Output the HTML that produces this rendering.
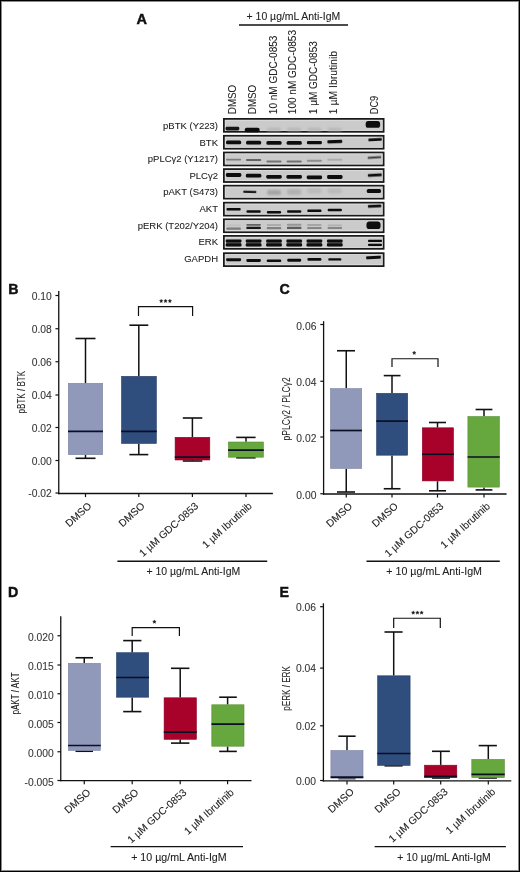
<!DOCTYPE html>
<html><head><meta charset="utf-8"><title>Figure</title>
<style>
html,body{margin:0;padding:0;background:#fff;}
body{width:520px;height:872px;overflow:hidden;position:relative;font-family:"Liberation Sans", sans-serif;}
svg{position:absolute;left:0;top:0;display:block;font-family:"Liberation Sans", sans-serif;filter:blur(0.35px);}
.frame{position:absolute;left:0;top:0;width:520px;height:872px;box-sizing:border-box;border:1px solid #000;pointer-events:none;}
.frame2{position:absolute;left:1px;top:1px;width:518px;height:870px;box-sizing:border-box;border:1px solid #8a8a8a;pointer-events:none;}
</style></head>
<body>
<svg width="520" height="872" viewBox="0 0 520 872">
<text x="136.60" y="23.50" font-size="14.4" text-anchor="start" fill="#111" font-weight="bold" textLength="10.50" lengthAdjust="spacingAndGlyphs" stroke="#111" stroke-width="0.45">A</text>
<text x="246.60" y="19.80" font-size="10.0" text-anchor="start" fill="#222" stroke="#222" stroke-width="0.08" textLength="93.60" lengthAdjust="spacingAndGlyphs" >+ 10 µg/mL Anti-IgM</text>
<line x1="239.00" y1="25.00" x2="348.00" y2="25.00" stroke="#111" stroke-width="1.4"/>
<text x="0.00" y="0.00" font-size="10.0" text-anchor="start" fill="#222" stroke="#222" stroke-width="0.08" textLength="29.40" lengthAdjust="spacingAndGlyphs" transform="translate(235.8,114.2) rotate(-90)" >DMSO</text>
<text x="0.00" y="0.00" font-size="10.0" text-anchor="start" fill="#222" stroke="#222" stroke-width="0.08" textLength="29.40" lengthAdjust="spacingAndGlyphs" transform="translate(255.7,114.2) rotate(-90)" >DMSO</text>
<text x="0.00" y="0.00" font-size="10.0" text-anchor="start" fill="#222" stroke="#222" stroke-width="0.08" textLength="78.60" lengthAdjust="spacingAndGlyphs" transform="translate(276.6,114.2) rotate(-90)" >10 nM GDC-0853</text>
<text x="0.00" y="0.00" font-size="10.0" text-anchor="start" fill="#222" stroke="#222" stroke-width="0.08" textLength="84.20" lengthAdjust="spacingAndGlyphs" transform="translate(296.4,114.2) rotate(-90)" >100 nM GDC-0853</text>
<text x="0.00" y="0.00" font-size="10.0" text-anchor="start" fill="#222" stroke="#222" stroke-width="0.08" textLength="73.00" lengthAdjust="spacingAndGlyphs" transform="translate(316.8,114.2) rotate(-90)" >1 µM GDC-0853</text>
<text x="0.00" y="0.00" font-size="10.0" text-anchor="start" fill="#222" stroke="#222" stroke-width="0.08" textLength="63.20" lengthAdjust="spacingAndGlyphs" transform="translate(336.9,114.2) rotate(-90)" >1 µM Ibrutinib</text>
<text x="0.00" y="0.00" font-size="10.0" text-anchor="start" fill="#222" stroke="#222" stroke-width="0.08" textLength="18.40" lengthAdjust="spacingAndGlyphs" transform="translate(378.2,114.2) rotate(-90)" >DC9</text>
<text x="218.00" y="129.20" font-size="9.5" text-anchor="end" fill="#222" stroke="#222" stroke-width="0.08" >pBTK (Y223)</text>
<text x="218.00" y="145.75" font-size="9.5" text-anchor="end" fill="#222" stroke="#222" stroke-width="0.08" >BTK</text>
<text x="218.00" y="162.30" font-size="9.5" text-anchor="end" fill="#222" stroke="#222" stroke-width="0.08" >pPLCγ2 (Y1217)</text>
<text x="218.00" y="178.85" font-size="9.5" text-anchor="end" fill="#222" stroke="#222" stroke-width="0.08" >PLCγ2</text>
<text x="218.00" y="195.40" font-size="9.5" text-anchor="end" fill="#222" stroke="#222" stroke-width="0.08" >pAKT (S473)</text>
<text x="218.00" y="211.95" font-size="9.5" text-anchor="end" fill="#222" stroke="#222" stroke-width="0.08" >AKT</text>
<text x="218.00" y="228.50" font-size="9.5" text-anchor="end" fill="#222" stroke="#222" stroke-width="0.08" >pERK (T202/Y204)</text>
<text x="218.00" y="245.05" font-size="9.5" text-anchor="end" fill="#222" stroke="#222" stroke-width="0.08" >ERK</text>
<text x="218.00" y="261.60" font-size="9.5" text-anchor="end" fill="#222" stroke="#222" stroke-width="0.08" >GAPDH</text>
<defs><filter id="bl" x="-30%" y="-150%" width="160%" height="400%"><feGaussianBlur stdDeviation="0.65"/></filter><filter id="bl2" x="-30%" y="-150%" width="160%" height="400%"><feGaussianBlur stdDeviation="1.3"/></filter></defs>
<rect x="223.90" y="118.90" width="159.70" height="12.9" fill="#cbcbcb" stroke="#1a1a1a" stroke-width="1.8"/>
<rect x="225.30" y="120.30" width="156.90" height="10.1" fill="none" stroke="#e4e4e4" stroke-width="0.8" opacity="0.8"/>
<rect x="223.90" y="135.80" width="159.70" height="12.9" fill="#cbcbcb" stroke="#1a1a1a" stroke-width="1.8"/>
<rect x="225.30" y="137.20" width="156.90" height="10.1" fill="none" stroke="#e4e4e4" stroke-width="0.8" opacity="0.8"/>
<rect x="223.90" y="152.50" width="159.70" height="12.9" fill="#cbcbcb" stroke="#1a1a1a" stroke-width="1.8"/>
<rect x="225.30" y="153.90" width="156.90" height="10.1" fill="none" stroke="#e4e4e4" stroke-width="0.8" opacity="0.8"/>
<rect x="223.90" y="169.10" width="159.70" height="12.9" fill="#cbcbcb" stroke="#1a1a1a" stroke-width="1.8"/>
<rect x="225.30" y="170.50" width="156.90" height="10.1" fill="none" stroke="#e4e4e4" stroke-width="0.8" opacity="0.8"/>
<rect x="223.90" y="185.70" width="159.70" height="12.9" fill="#cbcbcb" stroke="#1a1a1a" stroke-width="1.8"/>
<rect x="225.30" y="187.10" width="156.90" height="10.1" fill="none" stroke="#e4e4e4" stroke-width="0.8" opacity="0.8"/>
<rect x="223.90" y="202.70" width="159.70" height="12.9" fill="#cbcbcb" stroke="#1a1a1a" stroke-width="1.8"/>
<rect x="225.30" y="204.10" width="156.90" height="10.1" fill="none" stroke="#e4e4e4" stroke-width="0.8" opacity="0.8"/>
<rect x="223.90" y="219.30" width="159.70" height="12.9" fill="#cbcbcb" stroke="#1a1a1a" stroke-width="1.8"/>
<rect x="225.30" y="220.70" width="156.90" height="10.1" fill="none" stroke="#e4e4e4" stroke-width="0.8" opacity="0.8"/>
<rect x="223.90" y="235.90" width="159.70" height="12.9" fill="#cbcbcb" stroke="#1a1a1a" stroke-width="1.8"/>
<rect x="225.30" y="237.30" width="156.90" height="10.1" fill="none" stroke="#e4e4e4" stroke-width="0.8" opacity="0.8"/>
<rect x="223.90" y="253.20" width="159.70" height="12.9" fill="#cbcbcb" stroke="#1a1a1a" stroke-width="1.8"/>
<rect x="225.30" y="254.60" width="156.90" height="10.1" fill="none" stroke="#e4e4e4" stroke-width="0.8" opacity="0.8"/>
<rect x="225.50" y="126.80" width="13.80" height="3.60" rx="1.38" fill="rgb(22,22,22)" filter="url(#bl)"/>
<rect x="244.80" y="127.85" width="14.80" height="4.50" rx="1.73" fill="rgb(12,12,12)" filter="url(#bl)"/>
<rect x="267.00" y="127.80" width="14.00" height="3.20" rx="1.23" fill="rgb(184,184,184)" filter="url(#bl2)"/>
<rect x="287.20" y="127.80" width="14.00" height="3.20" rx="1.23" fill="rgb(184,184,184)" filter="url(#bl2)"/>
<rect x="307.40" y="127.80" width="14.00" height="3.20" rx="1.23" fill="rgb(184,184,184)" filter="url(#bl2)"/>
<rect x="327.80" y="127.80" width="14.00" height="3.20" rx="1.23" fill="rgb(184,184,184)" filter="url(#bl2)"/>
<rect x="365.70" y="121.10" width="14.40" height="6.60" rx="2.54" fill="rgb(12,12,12)" filter="url(#bl)"/>
<rect x="226.00" y="140.45" width="15.20" height="3.90" rx="1.50" fill="rgb(12,12,12)" filter="url(#bl)"/>
<rect x="246.00" y="140.65" width="15.20" height="3.90" rx="1.50" fill="rgb(12,12,12)" filter="url(#bl)"/>
<rect x="266.40" y="140.95" width="15.20" height="3.90" rx="1.50" fill="rgb(12,12,12)" filter="url(#bl)"/>
<rect x="286.60" y="140.95" width="15.20" height="3.90" rx="1.50" fill="rgb(12,12,12)" filter="url(#bl)"/>
<rect x="306.90" y="141.10" width="15.00" height="3.20" rx="1.23" fill="rgb(12,12,12)" filter="url(#bl)"/>
<rect x="327.30" y="140.10" width="15.00" height="3.20" rx="1.23" fill="rgb(12,12,12)" filter="url(#bl)" transform="rotate(-2.0 334.80 141.70)"/>
<rect x="368.30" y="138.25" width="13.60" height="2.70" rx="1.04" fill="rgb(12,12,12)" filter="url(#bl)" transform="rotate(-3.0 375.10 139.60)"/>
<rect x="226.10" y="158.65" width="15.00" height="1.90" rx="0.73" fill="rgb(123,123,123)" filter="url(#bl)"/>
<rect x="246.10" y="159.05" width="15.00" height="1.90" rx="0.73" fill="rgb(98,98,98)" filter="url(#bl)"/>
<rect x="266.50" y="160.55" width="15.00" height="1.90" rx="0.73" fill="rgb(117,117,117)" filter="url(#bl)"/>
<rect x="286.70" y="160.55" width="15.00" height="1.90" rx="0.73" fill="rgb(113,113,113)" filter="url(#bl)"/>
<rect x="306.90" y="159.75" width="15.00" height="1.90" rx="0.73" fill="rgb(142,142,142)" filter="url(#bl)"/>
<rect x="327.30" y="158.85" width="15.00" height="1.90" rx="0.73" fill="rgb(172,172,172)" filter="url(#bl)"/>
<rect x="367.65" y="156.40" width="13.50" height="2.00" rx="0.77" fill="rgb(60,60,60)" filter="url(#bl)" transform="rotate(-3.5 374.40 157.40)"/>
<rect x="225.90" y="173.10" width="15.40" height="3.80" rx="1.46" fill="rgb(12,12,12)" filter="url(#bl)"/>
<rect x="245.90" y="173.80" width="15.40" height="3.80" rx="1.46" fill="rgb(12,12,12)" filter="url(#bl)"/>
<rect x="266.30" y="174.90" width="15.40" height="3.80" rx="1.46" fill="rgb(12,12,12)" filter="url(#bl)"/>
<rect x="286.50" y="174.90" width="15.40" height="3.80" rx="1.46" fill="rgb(12,12,12)" filter="url(#bl)"/>
<rect x="306.70" y="175.50" width="15.40" height="3.80" rx="1.46" fill="rgb(12,12,12)" filter="url(#bl)"/>
<rect x="327.10" y="175.10" width="15.40" height="3.80" rx="1.46" fill="rgb(12,12,12)" filter="url(#bl)"/>
<rect x="367.80" y="173.75" width="14.00" height="2.70" rx="1.04" fill="rgb(12,12,12)" filter="url(#bl)" transform="rotate(-3.0 374.80 175.10)"/>
<rect x="243.20" y="190.70" width="13.20" height="2.20" rx="0.85" fill="rgb(31,31,31)" filter="url(#bl)" transform="rotate(1.5 249.80 191.80)"/>
<rect x="267.00" y="190.00" width="14.00" height="5.00" rx="1.92" fill="rgb(165,165,165)" filter="url(#bl2)"/>
<rect x="287.20" y="189.25" width="14.00" height="5.50" rx="2.12" fill="rgb(176,176,176)" filter="url(#bl2)"/>
<rect x="307.40" y="188.50" width="14.00" height="5.00" rx="1.92" fill="rgb(186,186,186)" filter="url(#bl2)"/>
<rect x="327.80" y="188.50" width="14.00" height="5.00" rx="1.92" fill="rgb(186,186,186)" filter="url(#bl2)"/>
<rect x="366.80" y="189.05" width="14.20" height="3.90" rx="1.50" fill="rgb(12,12,12)" filter="url(#bl)"/>
<rect x="226.50" y="207.95" width="14.20" height="2.50" rx="0.96" fill="rgb(12,12,12)" filter="url(#bl)"/>
<rect x="246.50" y="210.15" width="14.20" height="2.50" rx="0.96" fill="rgb(12,12,12)" filter="url(#bl)"/>
<rect x="266.90" y="210.95" width="14.20" height="2.50" rx="0.96" fill="rgb(12,12,12)" filter="url(#bl)"/>
<rect x="287.10" y="210.15" width="14.20" height="2.50" rx="0.96" fill="rgb(12,12,12)" filter="url(#bl)"/>
<rect x="307.30" y="209.45" width="14.20" height="2.50" rx="0.96" fill="rgb(12,12,12)" filter="url(#bl)"/>
<rect x="327.70" y="208.65" width="14.20" height="2.50" rx="0.96" fill="rgb(12,12,12)" filter="url(#bl)"/>
<rect x="367.85" y="204.65" width="13.50" height="2.90" rx="1.12" fill="rgb(12,12,12)" filter="url(#bl)" transform="rotate(-2.5 374.60 206.10)"/>
<rect x="226.35" y="224.45" width="14.50" height="1.90" rx="0.73" fill="rgb(192,192,192)" filter="url(#bl)"/>
<rect x="226.35" y="227.60" width="14.50" height="2.20" rx="0.85" fill="rgb(123,123,123)" filter="url(#bl)"/>
<rect x="246.35" y="223.95" width="14.50" height="1.90" rx="0.73" fill="rgb(98,98,98)" filter="url(#bl)"/>
<rect x="246.35" y="226.80" width="14.50" height="2.20" rx="0.85" fill="rgb(22,22,22)" filter="url(#bl)"/>
<rect x="266.75" y="224.05" width="14.50" height="1.90" rx="0.73" fill="rgb(172,172,172)" filter="url(#bl)"/>
<rect x="266.75" y="227.10" width="14.50" height="2.20" rx="0.85" fill="rgb(130,130,130)" filter="url(#bl)"/>
<rect x="286.95" y="223.85" width="14.50" height="1.90" rx="0.73" fill="rgb(150,150,150)" filter="url(#bl)"/>
<rect x="286.95" y="226.80" width="14.50" height="2.20" rx="0.85" fill="rgb(92,92,92)" filter="url(#bl)"/>
<rect x="307.15" y="224.05" width="14.50" height="1.90" rx="0.73" fill="rgb(165,165,165)" filter="url(#bl)"/>
<rect x="307.15" y="226.90" width="14.50" height="2.20" rx="0.85" fill="rgb(134,134,134)" filter="url(#bl)"/>
<rect x="327.55" y="224.45" width="14.50" height="1.90" rx="0.73" fill="rgb(176,176,176)" filter="url(#bl)"/>
<rect x="327.55" y="226.90" width="14.50" height="2.20" rx="0.85" fill="rgb(134,134,134)" filter="url(#bl)"/>
<rect x="366.50" y="221.50" width="14.00" height="7.60" rx="2.92" fill="rgb(12,12,12)" filter="url(#bl)"/>
<rect x="226.10" y="240.30" width="15.00" height="5.00" rx="1.92" fill="rgb(127,127,127)" filter="url(#bl)"/>
<rect x="225.70" y="239.60" width="15.80" height="2.80" rx="1.08" fill="rgb(12,12,12)" filter="url(#bl)"/>
<rect x="225.70" y="243.15" width="15.80" height="3.30" rx="1.27" fill="rgb(12,12,12)" filter="url(#bl)"/>
<rect x="246.10" y="240.30" width="15.00" height="5.00" rx="1.92" fill="rgb(127,127,127)" filter="url(#bl)"/>
<rect x="245.70" y="239.60" width="15.80" height="2.80" rx="1.08" fill="rgb(12,12,12)" filter="url(#bl)"/>
<rect x="245.70" y="243.15" width="15.80" height="3.30" rx="1.27" fill="rgb(12,12,12)" filter="url(#bl)"/>
<rect x="266.50" y="240.30" width="15.00" height="5.00" rx="1.92" fill="rgb(127,127,127)" filter="url(#bl)"/>
<rect x="266.10" y="239.60" width="15.80" height="2.80" rx="1.08" fill="rgb(12,12,12)" filter="url(#bl)"/>
<rect x="266.10" y="243.15" width="15.80" height="3.30" rx="1.27" fill="rgb(12,12,12)" filter="url(#bl)"/>
<rect x="286.70" y="240.30" width="15.00" height="5.00" rx="1.92" fill="rgb(127,127,127)" filter="url(#bl)"/>
<rect x="286.30" y="239.60" width="15.80" height="2.80" rx="1.08" fill="rgb(12,12,12)" filter="url(#bl)"/>
<rect x="286.30" y="243.15" width="15.80" height="3.30" rx="1.27" fill="rgb(12,12,12)" filter="url(#bl)"/>
<rect x="306.90" y="240.30" width="15.00" height="5.00" rx="1.92" fill="rgb(127,127,127)" filter="url(#bl)"/>
<rect x="306.50" y="239.60" width="15.80" height="2.80" rx="1.08" fill="rgb(12,12,12)" filter="url(#bl)"/>
<rect x="306.50" y="243.15" width="15.80" height="3.30" rx="1.27" fill="rgb(12,12,12)" filter="url(#bl)"/>
<rect x="327.30" y="240.30" width="15.00" height="5.00" rx="1.92" fill="rgb(127,127,127)" filter="url(#bl)"/>
<rect x="326.90" y="239.60" width="15.80" height="2.80" rx="1.08" fill="rgb(12,12,12)" filter="url(#bl)"/>
<rect x="326.90" y="243.15" width="15.80" height="3.30" rx="1.27" fill="rgb(12,12,12)" filter="url(#bl)"/>
<rect x="368.00" y="239.85" width="14.00" height="2.10" rx="0.81" fill="rgb(12,12,12)" filter="url(#bl)"/>
<rect x="368.00" y="243.65" width="14.00" height="2.30" rx="0.88" fill="rgb(12,12,12)" filter="url(#bl)"/>
<rect x="226.10" y="258.20" width="15.00" height="3.00" rx="1.15" fill="rgb(12,12,12)" filter="url(#bl)"/>
<rect x="246.35" y="258.90" width="14.50" height="3.00" rx="1.15" fill="rgb(12,12,12)" filter="url(#bl)"/>
<rect x="266.75" y="259.50" width="14.50" height="2.40" rx="0.92" fill="rgb(12,12,12)" filter="url(#bl)"/>
<rect x="287.20" y="258.75" width="14.00" height="2.90" rx="1.12" fill="rgb(12,12,12)" filter="url(#bl)"/>
<rect x="307.40" y="257.95" width="14.00" height="2.90" rx="1.12" fill="rgb(12,12,12)" filter="url(#bl)"/>
<rect x="328.30" y="258.20" width="13.00" height="2.40" rx="0.92" fill="rgb(12,12,12)" filter="url(#bl)"/>
<rect x="366.00" y="255.90" width="15.00" height="3.00" rx="1.15" fill="rgb(12,12,12)" filter="url(#bl)" transform="rotate(-3.0 373.50 257.40)"/>
<text x="8.20" y="293.70" font-size="14.2" text-anchor="start" fill="#111" font-weight="bold" stroke="#111" stroke-width="0.45">B</text>
<line x1="58.75" y1="291.00" x2="58.75" y2="494.15" stroke="#111" stroke-width="1.3"/>
<line x1="55.45" y1="295.50" x2="58.75" y2="295.50" stroke="#111" stroke-width="1.2"/>
<text x="51.80" y="299.80" font-size="10.3" text-anchor="end" fill="#333" stroke="#333" stroke-width="0.08" >0.10</text>
<line x1="55.45" y1="328.75" x2="58.75" y2="328.75" stroke="#111" stroke-width="1.2"/>
<text x="51.80" y="333.05" font-size="10.3" text-anchor="end" fill="#333" stroke="#333" stroke-width="0.08" >0.08</text>
<line x1="55.45" y1="361.75" x2="58.75" y2="361.75" stroke="#111" stroke-width="1.2"/>
<text x="51.80" y="366.05" font-size="10.3" text-anchor="end" fill="#333" stroke="#333" stroke-width="0.08" >0.06</text>
<line x1="55.45" y1="395.00" x2="58.75" y2="395.00" stroke="#111" stroke-width="1.2"/>
<text x="51.80" y="399.30" font-size="10.3" text-anchor="end" fill="#333" stroke="#333" stroke-width="0.08" >0.04</text>
<line x1="55.45" y1="427.50" x2="58.75" y2="427.50" stroke="#111" stroke-width="1.2"/>
<text x="51.80" y="431.80" font-size="10.3" text-anchor="end" fill="#333" stroke="#333" stroke-width="0.08" >0.02</text>
<line x1="55.45" y1="460.50" x2="58.75" y2="460.50" stroke="#111" stroke-width="1.2"/>
<text x="51.80" y="464.80" font-size="10.3" text-anchor="end" fill="#333" stroke="#333" stroke-width="0.08" >0.00</text>
<line x1="55.45" y1="493.00" x2="58.75" y2="493.00" stroke="#111" stroke-width="1.2"/>
<text x="51.80" y="497.30" font-size="10.3" text-anchor="end" fill="#333" stroke="#333" stroke-width="0.08" >-0.02</text>
<line x1="58.10" y1="493.50" x2="272.90" y2="493.50" stroke="#111" stroke-width="1.3"/>
<text x="0.00" y="0.00" font-size="10.3" text-anchor="middle" fill="#222" stroke="#222" stroke-width="0.08" textLength="42.50" lengthAdjust="spacingAndGlyphs" transform="translate(25.4,392.2) rotate(-90)" >pBTK / BTK</text>
<line x1="85.50" y1="338.50" x2="85.50" y2="383.00" stroke="#111" stroke-width="1.5"/>
<line x1="85.50" y1="455.00" x2="85.50" y2="458.30" stroke="#111" stroke-width="1.5"/>
<line x1="75.50" y1="338.50" x2="95.50" y2="338.50" stroke="#111" stroke-width="1.6"/>
<line x1="75.50" y1="458.30" x2="95.50" y2="458.30" stroke="#111" stroke-width="1.6"/>
<rect x="68.30" y="383.30" width="34.40" height="71.40" fill="#9199bb" stroke="#7b829e" stroke-width="0.6"/>
<line x1="68.00" y1="431.30" x2="103.00" y2="431.30" stroke="#0b0f26" stroke-width="1.7"/>
<line x1="85.50" y1="493.50" x2="85.50" y2="497.10" stroke="#111" stroke-width="1.2"/>
<text x="0.00" y="0.00" font-size="10.3" text-anchor="end" fill="#222" stroke="#222" stroke-width="0.08" transform="translate(92.10,506.90) rotate(-42)" >DMSO</text>
<line x1="138.80" y1="325.20" x2="138.80" y2="376.00" stroke="#111" stroke-width="1.5"/>
<line x1="138.80" y1="443.80" x2="138.80" y2="454.60" stroke="#111" stroke-width="1.5"/>
<line x1="129.40" y1="325.20" x2="148.30" y2="325.20" stroke="#111" stroke-width="1.6"/>
<line x1="129.40" y1="454.60" x2="148.30" y2="454.60" stroke="#111" stroke-width="1.6"/>
<rect x="121.50" y="376.30" width="34.90" height="67.20" fill="#2f4d7d" stroke="#27416a" stroke-width="0.6"/>
<line x1="121.20" y1="431.40" x2="156.70" y2="431.40" stroke="#0b0f26" stroke-width="1.7"/>
<line x1="138.80" y1="493.50" x2="138.80" y2="497.10" stroke="#111" stroke-width="1.2"/>
<text x="0.00" y="0.00" font-size="10.3" text-anchor="end" fill="#222" stroke="#222" stroke-width="0.08" transform="translate(145.40,506.90) rotate(-42)" >DMSO</text>
<line x1="192.40" y1="418.00" x2="192.40" y2="437.00" stroke="#111" stroke-width="1.5"/>
<line x1="192.40" y1="460.30" x2="192.40" y2="461.00" stroke="#111" stroke-width="1.5"/>
<line x1="182.80" y1="418.00" x2="202.30" y2="418.00" stroke="#111" stroke-width="1.6"/>
<line x1="182.80" y1="461.00" x2="202.30" y2="461.00" stroke="#111" stroke-width="1.6"/>
<rect x="175.10" y="437.30" width="34.70" height="22.70" fill="#a8022a" stroke="#8e0123" stroke-width="0.6"/>
<line x1="174.80" y1="457.10" x2="210.10" y2="457.10" stroke="#0b0f26" stroke-width="1.7"/>
<line x1="192.40" y1="493.50" x2="192.40" y2="497.10" stroke="#111" stroke-width="1.2"/>
<text x="0.00" y="0.00" font-size="10.3" text-anchor="end" fill="#222" stroke="#222" stroke-width="0.08" transform="translate(199.00,506.90) rotate(-42)" >1 µM GDC-0853</text>
<line x1="246.00" y1="437.40" x2="246.00" y2="441.70" stroke="#111" stroke-width="1.5"/>
<line x1="246.00" y1="457.50" x2="246.00" y2="457.80" stroke="#111" stroke-width="1.5"/>
<line x1="236.20" y1="437.40" x2="255.60" y2="437.40" stroke="#111" stroke-width="1.6"/>
<line x1="236.20" y1="457.80" x2="255.60" y2="457.80" stroke="#111" stroke-width="1.6"/>
<rect x="228.40" y="442.00" width="35.00" height="15.20" fill="#67a83e" stroke="#578e34" stroke-width="0.6"/>
<line x1="228.10" y1="450.10" x2="263.70" y2="450.10" stroke="#0b0f26" stroke-width="1.7"/>
<line x1="246.00" y1="493.50" x2="246.00" y2="497.10" stroke="#111" stroke-width="1.2"/>
<text x="0.00" y="0.00" font-size="10.3" text-anchor="end" fill="#222" stroke="#222" stroke-width="0.08" transform="translate(252.60,506.90) rotate(-42)" >1 µM Ibrutinib</text>
<polyline points="138.5,316 138.5,306.7 192.6,306.7 192.6,316" fill="none" stroke="#111" stroke-width="1.2"/>
<polygon points="161.20,299.15 161.73,300.27 162.96,300.43 162.06,301.28 162.29,302.50 161.20,301.90 160.11,302.50 160.34,301.28 159.44,300.43 160.67,300.27" fill="#1a1a1a" stroke="#1a1a1a" stroke-width="0.35" stroke-linejoin="round"/>
<polygon points="165.55,299.15 166.08,300.27 167.31,300.43 166.41,301.28 166.64,302.50 165.55,301.90 164.46,302.50 164.69,301.28 163.79,300.43 165.02,300.27" fill="#1a1a1a" stroke="#1a1a1a" stroke-width="0.35" stroke-linejoin="round"/>
<polygon points="169.90,299.15 170.43,300.27 171.66,300.43 170.76,301.28 170.99,302.50 169.90,301.90 168.81,302.50 169.04,301.28 168.14,300.43 169.37,300.27" fill="#1a1a1a" stroke="#1a1a1a" stroke-width="0.35" stroke-linejoin="round"/>
<line x1="117.40" y1="561.20" x2="267.20" y2="561.20" stroke="#111" stroke-width="1.4"/>
<text x="146.40" y="574.60" font-size="10.0" text-anchor="start" fill="#222" stroke="#222" stroke-width="0.08" textLength="93.80" lengthAdjust="spacingAndGlyphs" >+ 10 µg/mL Anti-IgM</text>
<text x="279.60" y="294.00" font-size="14.2" text-anchor="start" fill="#111" font-weight="bold" stroke="#111" stroke-width="0.45">C</text>
<line x1="323.60" y1="321.20" x2="323.60" y2="494.65" stroke="#111" stroke-width="1.3"/>
<line x1="320.30" y1="324.50" x2="323.60" y2="324.50" stroke="#111" stroke-width="1.2"/>
<text x="316.40" y="329.50" font-size="10.3" text-anchor="end" fill="#333" stroke="#333" stroke-width="0.08" >0.06</text>
<line x1="320.30" y1="381.25" x2="323.60" y2="381.25" stroke="#111" stroke-width="1.2"/>
<text x="316.40" y="386.25" font-size="10.3" text-anchor="end" fill="#333" stroke="#333" stroke-width="0.08" >0.04</text>
<line x1="320.30" y1="437.00" x2="323.60" y2="437.00" stroke="#111" stroke-width="1.2"/>
<text x="316.40" y="442.00" font-size="10.3" text-anchor="end" fill="#333" stroke="#333" stroke-width="0.08" >0.02</text>
<line x1="320.30" y1="493.75" x2="323.60" y2="493.75" stroke="#111" stroke-width="1.2"/>
<text x="316.40" y="498.75" font-size="10.3" text-anchor="end" fill="#333" stroke="#333" stroke-width="0.08" >0.00</text>
<line x1="322.95" y1="494.00" x2="506.60" y2="494.00" stroke="#111" stroke-width="1.3"/>
<text x="0.00" y="0.00" font-size="10.3" text-anchor="middle" fill="#222" stroke="#222" stroke-width="0.08" textLength="63.20" lengthAdjust="spacingAndGlyphs" transform="translate(289.6,408.8) rotate(-90)" >pPLCγ2 / PLCγ2</text>
<line x1="346.25" y1="350.75" x2="346.25" y2="388.30" stroke="#111" stroke-width="1.5"/>
<line x1="346.25" y1="468.75" x2="346.25" y2="492.00" stroke="#111" stroke-width="1.5"/>
<line x1="337.00" y1="350.75" x2="355.00" y2="350.75" stroke="#111" stroke-width="1.6"/>
<line x1="337.00" y1="492.00" x2="355.00" y2="492.00" stroke="#111" stroke-width="1.6"/>
<rect x="330.50" y="388.60" width="31.20" height="79.85" fill="#9199bb" stroke="#7b829e" stroke-width="0.6"/>
<line x1="330.20" y1="430.50" x2="362.00" y2="430.50" stroke="#0b0f26" stroke-width="1.7"/>
<line x1="346.25" y1="494.00" x2="346.25" y2="497.60" stroke="#111" stroke-width="1.2"/>
<text x="0.00" y="0.00" font-size="10.3" text-anchor="end" fill="#222" stroke="#222" stroke-width="0.08" transform="translate(353.05,507.10) rotate(-42)" >DMSO</text>
<line x1="392.00" y1="375.60" x2="392.00" y2="393.00" stroke="#111" stroke-width="1.5"/>
<line x1="392.00" y1="455.50" x2="392.00" y2="488.75" stroke="#111" stroke-width="1.5"/>
<line x1="383.75" y1="375.60" x2="400.50" y2="375.60" stroke="#111" stroke-width="1.6"/>
<line x1="383.75" y1="488.75" x2="400.50" y2="488.75" stroke="#111" stroke-width="1.6"/>
<rect x="376.55" y="393.30" width="31.15" height="61.90" fill="#2f4d7d" stroke="#27416a" stroke-width="0.6"/>
<line x1="376.25" y1="421.10" x2="408.00" y2="421.10" stroke="#0b0f26" stroke-width="1.7"/>
<line x1="392.00" y1="494.00" x2="392.00" y2="497.60" stroke="#111" stroke-width="1.2"/>
<text x="0.00" y="0.00" font-size="10.3" text-anchor="end" fill="#222" stroke="#222" stroke-width="0.08" transform="translate(398.80,507.10) rotate(-42)" >DMSO</text>
<line x1="437.50" y1="422.50" x2="437.50" y2="427.50" stroke="#111" stroke-width="1.5"/>
<line x1="437.50" y1="481.20" x2="437.50" y2="490.80" stroke="#111" stroke-width="1.5"/>
<line x1="429.00" y1="422.50" x2="446.00" y2="422.50" stroke="#111" stroke-width="1.6"/>
<line x1="429.00" y1="490.80" x2="446.00" y2="490.80" stroke="#111" stroke-width="1.6"/>
<rect x="422.30" y="427.80" width="31.20" height="53.10" fill="#a8022a" stroke="#8e0123" stroke-width="0.6"/>
<line x1="422.00" y1="454.20" x2="453.80" y2="454.20" stroke="#0b0f26" stroke-width="1.7"/>
<line x1="437.50" y1="494.00" x2="437.50" y2="497.60" stroke="#111" stroke-width="1.2"/>
<text x="0.00" y="0.00" font-size="10.3" text-anchor="end" fill="#222" stroke="#222" stroke-width="0.08" transform="translate(444.30,507.10) rotate(-42)" >1 µM GDC-0853</text>
<line x1="484.00" y1="409.50" x2="484.00" y2="416.25" stroke="#111" stroke-width="1.5"/>
<line x1="484.00" y1="487.40" x2="484.00" y2="489.90" stroke="#111" stroke-width="1.5"/>
<line x1="475.60" y1="409.50" x2="492.40" y2="409.50" stroke="#111" stroke-width="1.6"/>
<line x1="475.60" y1="489.90" x2="492.40" y2="489.90" stroke="#111" stroke-width="1.6"/>
<rect x="467.90" y="416.55" width="31.50" height="70.55" fill="#67a83e" stroke="#578e34" stroke-width="0.6"/>
<line x1="467.60" y1="457.00" x2="499.70" y2="457.00" stroke="#0b0f26" stroke-width="1.7"/>
<line x1="484.00" y1="494.00" x2="484.00" y2="497.60" stroke="#111" stroke-width="1.2"/>
<text x="0.00" y="0.00" font-size="10.3" text-anchor="end" fill="#222" stroke="#222" stroke-width="0.08" transform="translate(490.80,507.10) rotate(-42)" >1 µM Ibrutinib</text>
<polyline points="392,367 392,358.75 438,358.75 438,367" fill="none" stroke="#111" stroke-width="1.2"/>
<polygon points="414.20,351.05 414.73,352.17 415.96,352.33 415.06,353.18 415.29,354.40 414.20,353.80 413.11,354.40 413.34,353.18 412.44,352.33 413.67,352.17" fill="#1a1a1a" stroke="#1a1a1a" stroke-width="0.35" stroke-linejoin="round"/>
<line x1="366.50" y1="561.30" x2="499.80" y2="561.30" stroke="#111" stroke-width="1.4"/>
<text x="386.30" y="574.60" font-size="10.0" text-anchor="start" fill="#222" stroke="#222" stroke-width="0.08" textLength="95.70" lengthAdjust="spacingAndGlyphs" >+ 10 µg/mL Anti-IgM</text>
<text x="8.00" y="596.90" font-size="14.2" text-anchor="start" fill="#111" font-weight="bold" stroke="#111" stroke-width="0.45">D</text>
<line x1="60.75" y1="616.25" x2="60.75" y2="781.35" stroke="#111" stroke-width="1.3"/>
<line x1="57.45" y1="635.75" x2="60.75" y2="635.75" stroke="#111" stroke-width="1.2"/>
<text x="53.80" y="640.75" font-size="10.3" text-anchor="end" fill="#333" stroke="#333" stroke-width="0.08" >0.020</text>
<line x1="57.45" y1="665.00" x2="60.75" y2="665.00" stroke="#111" stroke-width="1.2"/>
<text x="53.80" y="670.00" font-size="10.3" text-anchor="end" fill="#333" stroke="#333" stroke-width="0.08" >0.015</text>
<line x1="57.45" y1="693.75" x2="60.75" y2="693.75" stroke="#111" stroke-width="1.2"/>
<text x="53.80" y="698.75" font-size="10.3" text-anchor="end" fill="#333" stroke="#333" stroke-width="0.08" >0.010</text>
<line x1="57.45" y1="722.50" x2="60.75" y2="722.50" stroke="#111" stroke-width="1.2"/>
<text x="53.80" y="727.50" font-size="10.3" text-anchor="end" fill="#333" stroke="#333" stroke-width="0.08" >0.005</text>
<line x1="57.45" y1="751.75" x2="60.75" y2="751.75" stroke="#111" stroke-width="1.2"/>
<text x="53.80" y="756.75" font-size="10.3" text-anchor="end" fill="#333" stroke="#333" stroke-width="0.08" >0.000</text>
<line x1="57.45" y1="780.50" x2="60.75" y2="780.50" stroke="#111" stroke-width="1.2"/>
<text x="53.80" y="785.50" font-size="10.3" text-anchor="end" fill="#333" stroke="#333" stroke-width="0.08" >-0.005</text>
<line x1="60.10" y1="780.70" x2="251.50" y2="780.70" stroke="#111" stroke-width="1.3"/>
<text x="0.00" y="0.00" font-size="10.3" text-anchor="middle" fill="#222" stroke="#222" stroke-width="0.08" textLength="42.20" lengthAdjust="spacingAndGlyphs" transform="translate(18.5,693.5) rotate(-90)" >pAKT / AKT</text>
<line x1="84.25" y1="657.75" x2="84.25" y2="663.00" stroke="#111" stroke-width="1.5"/>
<line x1="84.25" y1="750.75" x2="84.25" y2="751.25" stroke="#111" stroke-width="1.5"/>
<line x1="75.50" y1="657.75" x2="93.00" y2="657.75" stroke="#111" stroke-width="1.6"/>
<line x1="75.50" y1="751.25" x2="93.00" y2="751.25" stroke="#111" stroke-width="1.6"/>
<rect x="68.30" y="663.30" width="32.15" height="87.15" fill="#9199bb" stroke="#7b829e" stroke-width="0.6"/>
<line x1="68.00" y1="745.50" x2="100.75" y2="745.50" stroke="#0b0f26" stroke-width="1.7"/>
<line x1="84.25" y1="780.70" x2="84.25" y2="784.30" stroke="#111" stroke-width="1.2"/>
<text x="0.00" y="0.00" font-size="10.3" text-anchor="end" fill="#222" stroke="#222" stroke-width="0.08" transform="translate(91.25,793.40) rotate(-42)" >DMSO</text>
<line x1="132.20" y1="640.60" x2="132.20" y2="652.40" stroke="#111" stroke-width="1.5"/>
<line x1="132.20" y1="697.50" x2="132.20" y2="711.60" stroke="#111" stroke-width="1.5"/>
<line x1="123.20" y1="640.60" x2="141.40" y2="640.60" stroke="#111" stroke-width="1.6"/>
<line x1="123.20" y1="711.60" x2="141.40" y2="711.60" stroke="#111" stroke-width="1.6"/>
<rect x="116.50" y="652.70" width="32.20" height="44.50" fill="#2f4d7d" stroke="#27416a" stroke-width="0.6"/>
<line x1="116.20" y1="677.50" x2="149.00" y2="677.50" stroke="#0b0f26" stroke-width="1.7"/>
<line x1="132.20" y1="780.70" x2="132.20" y2="784.30" stroke="#111" stroke-width="1.2"/>
<text x="0.00" y="0.00" font-size="10.3" text-anchor="end" fill="#222" stroke="#222" stroke-width="0.08" transform="translate(139.20,793.40) rotate(-42)" >DMSO</text>
<line x1="180.20" y1="668.30" x2="180.20" y2="697.50" stroke="#111" stroke-width="1.5"/>
<line x1="180.20" y1="739.60" x2="180.20" y2="743.10" stroke="#111" stroke-width="1.5"/>
<line x1="171.00" y1="668.30" x2="189.40" y2="668.30" stroke="#111" stroke-width="1.6"/>
<line x1="171.00" y1="743.10" x2="189.40" y2="743.10" stroke="#111" stroke-width="1.6"/>
<rect x="164.10" y="697.80" width="32.30" height="41.50" fill="#a8022a" stroke="#8e0123" stroke-width="0.6"/>
<line x1="163.80" y1="732.20" x2="196.70" y2="732.20" stroke="#0b0f26" stroke-width="1.7"/>
<line x1="180.20" y1="780.70" x2="180.20" y2="784.30" stroke="#111" stroke-width="1.2"/>
<text x="0.00" y="0.00" font-size="10.3" text-anchor="end" fill="#222" stroke="#222" stroke-width="0.08" transform="translate(187.20,793.40) rotate(-42)" >1 µM GDC-0853</text>
<line x1="227.60" y1="697.20" x2="227.60" y2="704.50" stroke="#111" stroke-width="1.5"/>
<line x1="227.60" y1="746.50" x2="227.60" y2="751.40" stroke="#111" stroke-width="1.5"/>
<line x1="219.20" y1="697.20" x2="236.80" y2="697.20" stroke="#111" stroke-width="1.6"/>
<line x1="219.20" y1="751.40" x2="236.80" y2="751.40" stroke="#111" stroke-width="1.6"/>
<rect x="211.80" y="704.80" width="32.20" height="41.40" fill="#67a83e" stroke="#578e34" stroke-width="0.6"/>
<line x1="211.50" y1="724.20" x2="244.30" y2="724.20" stroke="#0b0f26" stroke-width="1.7"/>
<line x1="227.60" y1="780.70" x2="227.60" y2="784.30" stroke="#111" stroke-width="1.2"/>
<text x="0.00" y="0.00" font-size="10.3" text-anchor="end" fill="#222" stroke="#222" stroke-width="0.08" transform="translate(234.60,793.40) rotate(-42)" >1 µM Ibrutinib</text>
<polyline points="132.2,636 132.2,627.7 179.4,627.7 179.4,636" fill="none" stroke="#111" stroke-width="1.2"/>
<polygon points="154.40,619.95 154.93,621.07 156.16,621.23 155.26,622.08 155.49,623.30 154.40,622.70 153.31,623.30 153.54,622.08 152.64,621.23 153.87,621.07" fill="#1a1a1a" stroke="#1a1a1a" stroke-width="0.35" stroke-linejoin="round"/>
<line x1="110.60" y1="846.60" x2="243.00" y2="846.60" stroke="#111" stroke-width="1.4"/>
<text x="131.20" y="861.40" font-size="10.0" text-anchor="start" fill="#222" stroke="#222" stroke-width="0.08" textLength="95.50" lengthAdjust="spacingAndGlyphs" >+ 10 µg/mL Anti-IgM</text>
<text x="279.60" y="597.00" font-size="14.2" text-anchor="start" fill="#111" font-weight="bold" stroke="#111" stroke-width="0.45">E</text>
<line x1="323.40" y1="603.30" x2="323.40" y2="781.55" stroke="#111" stroke-width="1.3"/>
<line x1="320.10" y1="606.70" x2="323.40" y2="606.70" stroke="#111" stroke-width="1.2"/>
<text x="316.00" y="610.90" font-size="10.3" text-anchor="end" fill="#333" stroke="#333" stroke-width="0.08" >0.06</text>
<line x1="320.10" y1="668.10" x2="323.40" y2="668.10" stroke="#111" stroke-width="1.2"/>
<text x="316.00" y="672.30" font-size="10.3" text-anchor="end" fill="#333" stroke="#333" stroke-width="0.08" >0.04</text>
<line x1="320.10" y1="725.80" x2="323.40" y2="725.80" stroke="#111" stroke-width="1.2"/>
<text x="316.00" y="730.00" font-size="10.3" text-anchor="end" fill="#333" stroke="#333" stroke-width="0.08" >0.02</text>
<line x1="320.10" y1="780.50" x2="323.40" y2="780.50" stroke="#111" stroke-width="1.2"/>
<text x="316.00" y="784.70" font-size="10.3" text-anchor="end" fill="#333" stroke="#333" stroke-width="0.08" >0.00</text>
<line x1="322.75" y1="780.90" x2="511.30" y2="780.90" stroke="#111" stroke-width="1.3"/>
<text x="0.00" y="0.00" font-size="10.3" text-anchor="middle" fill="#222" stroke="#222" stroke-width="0.08" textLength="44.50" lengthAdjust="spacingAndGlyphs" transform="translate(289.9,688.4) rotate(-90)" >pERK / ERK</text>
<line x1="347.00" y1="736.20" x2="347.00" y2="750.20" stroke="#111" stroke-width="1.5"/>
<line x1="347.00" y1="778.50" x2="347.00" y2="778.60" stroke="#111" stroke-width="1.5"/>
<line x1="338.30" y1="736.20" x2="355.60" y2="736.20" stroke="#111" stroke-width="1.6"/>
<line x1="338.30" y1="778.60" x2="355.60" y2="778.60" stroke="#111" stroke-width="1.6"/>
<rect x="330.90" y="750.50" width="32.10" height="27.70" fill="#9199bb" stroke="#7b829e" stroke-width="0.6"/>
<line x1="330.60" y1="777.10" x2="363.30" y2="777.10" stroke="#0b0f26" stroke-width="1.7"/>
<line x1="347.00" y1="780.90" x2="347.00" y2="784.50" stroke="#111" stroke-width="1.2"/>
<text x="0.00" y="0.00" font-size="10.3" text-anchor="end" fill="#222" stroke="#222" stroke-width="0.08" transform="translate(354.80,792.70) rotate(-42)" >DMSO</text>
<line x1="393.70" y1="632.00" x2="393.70" y2="675.50" stroke="#111" stroke-width="1.5"/>
<line x1="393.70" y1="765.70" x2="393.70" y2="765.80" stroke="#111" stroke-width="1.5"/>
<line x1="384.50" y1="632.00" x2="402.60" y2="632.00" stroke="#111" stroke-width="1.6"/>
<line x1="384.50" y1="765.80" x2="402.60" y2="765.80" stroke="#111" stroke-width="1.6"/>
<rect x="377.60" y="675.80" width="32.50" height="89.60" fill="#2f4d7d" stroke="#27416a" stroke-width="0.6"/>
<line x1="377.30" y1="753.50" x2="410.40" y2="753.50" stroke="#0b0f26" stroke-width="1.7"/>
<line x1="393.70" y1="780.90" x2="393.70" y2="784.50" stroke="#111" stroke-width="1.2"/>
<text x="0.00" y="0.00" font-size="10.3" text-anchor="end" fill="#222" stroke="#222" stroke-width="0.08" transform="translate(401.50,792.70) rotate(-42)" >DMSO</text>
<line x1="440.70" y1="751.30" x2="440.70" y2="764.90" stroke="#111" stroke-width="1.5"/>
<line x1="440.70" y1="777.90" x2="440.70" y2="778.00" stroke="#111" stroke-width="1.5"/>
<line x1="432.00" y1="751.30" x2="449.90" y2="751.30" stroke="#111" stroke-width="1.6"/>
<line x1="432.00" y1="778.00" x2="449.90" y2="778.00" stroke="#111" stroke-width="1.6"/>
<rect x="424.50" y="765.20" width="32.30" height="12.40" fill="#a8022a" stroke="#8e0123" stroke-width="0.6"/>
<line x1="424.20" y1="776.40" x2="457.10" y2="776.40" stroke="#0b0f26" stroke-width="1.7"/>
<line x1="440.70" y1="780.90" x2="440.70" y2="784.50" stroke="#111" stroke-width="1.2"/>
<text x="0.00" y="0.00" font-size="10.3" text-anchor="end" fill="#222" stroke="#222" stroke-width="0.08" transform="translate(448.50,792.70) rotate(-42)" >1 µM GDC-0853</text>
<line x1="488.30" y1="745.60" x2="488.30" y2="759.10" stroke="#111" stroke-width="1.5"/>
<line x1="488.30" y1="777.90" x2="488.30" y2="778.00" stroke="#111" stroke-width="1.5"/>
<line x1="478.70" y1="745.60" x2="496.90" y2="745.60" stroke="#111" stroke-width="1.6"/>
<line x1="478.70" y1="778.00" x2="496.90" y2="778.00" stroke="#111" stroke-width="1.6"/>
<rect x="471.80" y="759.40" width="32.60" height="18.20" fill="#67a83e" stroke="#578e34" stroke-width="0.6"/>
<line x1="471.50" y1="774.40" x2="504.70" y2="774.40" stroke="#0b0f26" stroke-width="1.7"/>
<line x1="488.30" y1="780.90" x2="488.30" y2="784.50" stroke="#111" stroke-width="1.2"/>
<text x="0.00" y="0.00" font-size="10.3" text-anchor="end" fill="#222" stroke="#222" stroke-width="0.08" transform="translate(496.10,792.70) rotate(-42)" >1 µM Ibrutinib</text>
<polyline points="393.7,628 393.7,618.25 440.3,618.25 440.3,628" fill="none" stroke="#111" stroke-width="1.2"/>
<polygon points="413.20,610.85 413.73,611.97 414.96,612.13 414.06,612.98 414.29,614.20 413.20,613.60 412.11,614.20 412.34,612.98 411.44,612.13 412.67,611.97" fill="#1a1a1a" stroke="#1a1a1a" stroke-width="0.35" stroke-linejoin="round"/>
<polygon points="417.40,610.85 417.93,611.97 419.16,612.13 418.26,612.98 418.49,614.20 417.40,613.60 416.31,614.20 416.54,612.98 415.64,612.13 416.87,611.97" fill="#1a1a1a" stroke="#1a1a1a" stroke-width="0.35" stroke-linejoin="round"/>
<polygon points="421.60,610.85 422.13,611.97 423.36,612.13 422.46,612.98 422.69,614.20 421.60,613.60 420.51,614.20 420.74,612.98 419.84,612.13 421.07,611.97" fill="#1a1a1a" stroke="#1a1a1a" stroke-width="0.35" stroke-linejoin="round"/>
<line x1="374.60" y1="846.60" x2="505.90" y2="846.60" stroke="#111" stroke-width="1.4"/>
<text x="397.20" y="861.40" font-size="10.0" text-anchor="start" fill="#222" stroke="#222" stroke-width="0.08" textLength="93.50" lengthAdjust="spacingAndGlyphs" >+ 10 µg/mL Anti-IgM</text>
</svg>
<div class="frame2"></div><div class="frame"></div>
</body></html>
